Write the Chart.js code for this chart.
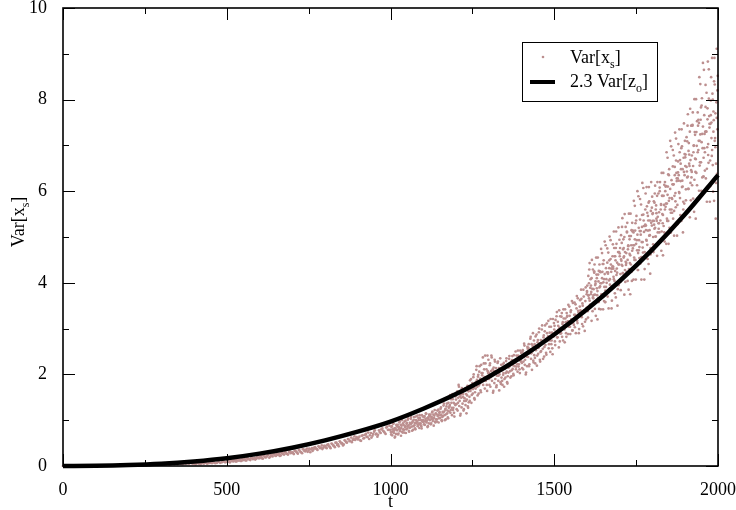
<!DOCTYPE html>
<html>
<head>
<meta charset="utf-8">
<script src="https://cdn.jsdelivr.net/npm/chart.js@4.4.0/dist/chart.umd.min.js"></script>
<style>
  body { margin: 0; background: #fff; }
  canvas { display: block; }
</style>
</head>
<body>
<canvas id="varchart" width="736" height="510"></canvas>
<script>
// black curve: 2.3 Var[z_o], read every 100 in t
var lineT = [0, 100, 200, 300, 400, 500, 600, 700, 800, 900, 1000,
             1100, 1200, 1300, 1400, 1500, 1600, 1700, 1800, 1900, 2000];
var lineY = [0, 0.004, 0.02, 0.05, 0.10, 0.17, 0.27, 0.40, 0.56, 0.75, 0.97,
             1.25, 1.57, 1.95, 2.38, 2.87, 3.42, 4.04, 4.73, 5.50, 6.35];

// scatter Var[x_s], part A: t = 0, 5, 10 ... 995
var scatStartA = 0, scatStepA = 5;
var scatYA = [
  0,0,0,0,0,0,0,0,0,0,0,0,0,0,0,0,0,0,0,0,
  0,0.01,0,0.01,0,0.01,0.01,0,0.01,0.01,0.01,0.01,0.01,0.02,0.01,0.01,0.02,0.01,0.02,0.01,
  0.01,0.02,0.01,0.02,0.02,0.01,0.02,0.03,0.02,0.02,0.03,0.02,0.03,0.02,0.03,0.04,0.03,0.03,0.04,0.03,
  0.03,0.04,0.03,0.04,0.05,0.03,0.04,0.05,0.04,0.05,0.04,0.06,0.05,0.04,0.06,0.05,0.06,0.05,0.07,0.05,
  0.05,0.04,0.06,0.05,0.04,0.06,0.05,0.07,0.05,0.06,0.07,0.06,0.08,0.06,0.07,0.09,0.07,0.08,0.10,0.08,
  0.09,0.11,0.08,0.12,0.10,0.13,0.10,0.12,0.14,0.11,0.13,0.15,0.12,0.16,0.14,0.17,0.15,0.18,0.16,0.19,
  0.17,0.21,0.16,0.22,0.19,0.23,0.18,0.24,0.21,0.26,0.22,0.25,0.27,0.23,0.28,0.25,0.30,0.26,0.31,0.28,
  0.30,0.26,0.33,0.29,0.35,0.31,0.28,0.36,0.32,0.38,0.34,0.30,0.39,0.36,0.41,0.37,0.43,0.39,0.45,0.40,
  0.44,0.39,0.47,0.42,0.49,0.45,0.41,0.51,0.47,0.54,0.49,0.45,0.56,0.52,0.59,0.54,0.62,0.57,0.65,0.60,
  0.58,0.64,0.55,0.67,0.61,0.70,0.63,0.59,0.72,0.66,0.75,0.69,0.64,0.78,0.72,0.82,0.75,0.70,0.86,0.79
];

// part A2: t = 502, 507 ... 997
var scatStartA2 = 502, scatStepA2 = 5;
var scatYA2 = [
  0.12,0.09,0.14,0.11,0.13,0.10,0.15,0.12,0.11,0.16,0.14,0.12,0.17,0.15,0.13,0.18,0.16,0.14,0.19,0.17,
  0.20,0.17,0.23,0.19,0.21,0.25,0.20,0.22,0.26,0.23,0.27,0.24,0.22,0.29,0.26,0.30,0.27,0.25,0.32,0.29,
  0.28,0.33,0.31,0.27,0.34,0.30,0.37,0.33,0.35,0.31,0.38,0.36,0.33,0.40,0.38,0.35,0.42,0.40,0.37,0.44,
  0.41,0.46,0.43,0.39,0.48,0.44,0.51,0.46,0.43,0.52,0.50,0.47,0.55,0.51,0.58,0.55,0.52,0.60,0.57,0.63,
  0.61,0.56,0.66,0.60,0.68,0.64,0.73,0.67,0.62,0.70,0.78,0.71,0.68,0.74,0.80,0.77,0.73,0.84,0.79,0.88
];

// part B: t = 1000, 1002 ... 1998
var scatStartB = 1000, scatStepB = 2;
var scatYB = [
  0.79,0.69,0.87,0.75,0.93,0.72,0.82,0.64,0.80,0.90,
  0.78,0.90,0.71,0.85,0.97,0.81,0.66,0.88,0.75,0.93,
  0.90,0.73,0.85,0.99,0.80,0.94,0.87,1.04,0.77,0.84,
  0.84,1.03,0.93,0.77,0.98,0.87,1.07,0.94,0.80,1.00,
  0.95,1.10,0.90,1.00,0.83,1.05,0.93,0.87,1.11,0.97,
  1.01,0.91,1.09,0.98,1.15,0.95,1.04,0.87,1.03,1.12,
  1.00,1.12,0.93,1.07,1.19,1.03,0.88,1.10,0.97,1.15,
  1.14,0.97,1.09,1.23,1.04,1.18,1.11,1.28,1.00,1.07,
  1.09,1.32,1.19,1.00,1.25,1.13,1.36,1.21,1.04,1.27,
  1.30,1.55,1.22,1.38,1.11,1.46,1.27,1.16,1.57,1.33,
  1.45,1.24,1.63,1.38,1.77,1.31,1.52,1.14,1.49,1.70,
  1.36,1.57,1.24,1.48,1.69,1.42,1.15,1.54,1.30,1.63,
  1.74,1.42,1.64,1.90,1.55,1.81,1.68,2.00,1.48,1.61,
  1.69,2.10,1.88,1.54,1.99,1.76,2.18,1.91,1.61,2.03,
  1.98,2.37,1.86,2.11,1.69,2.24,1.94,1.77,2.41,2.03,
  2.03,1.77,2.24,1.94,2.41,1.86,2.11,1.64,2.07,2.32,
  1.90,2.14,1.76,2.04,2.28,1.97,1.65,2.11,1.83,2.21,
  2.09,1.77,1.99,2.25,1.90,2.16,2.03,2.35,1.83,1.96,
  2.04,2.34,2.18,1.93,2.26,2.09,2.40,2.20,1.98,2.29,
  2.25,2.50,2.17,2.33,2.06,2.41,2.22,2.11,2.52,2.28,
  2.35,2.14,2.53,2.28,2.67,2.21,2.42,2.04,2.39,2.60,
  2.38,2.66,2.22,2.54,2.82,2.46,2.10,2.62,2.30,2.74,
  2.66,2.24,2.53,2.87,2.41,2.75,2.58,3.00,2.32,2.49,
  2.51,2.98,2.73,2.34,2.85,2.60,3.07,2.77,2.43,2.90,
  2.78,3.17,2.66,2.91,2.49,3.04,2.74,2.57,3.21,2.83,
  2.98,2.72,3.19,2.89,3.36,2.81,3.06,2.59,3.02,3.27,
  2.98,3.26,2.82,3.14,3.42,3.06,2.70,3.22,2.90,3.34,
  3.28,2.88,3.16,3.48,3.04,3.36,3.20,3.60,2.96,3.12,
  3.08,3.57,3.30,2.90,3.44,3.17,3.66,3.35,2.99,3.48,
  3.40,3.85,3.25,3.55,3.05,3.70,3.35,3.15,3.90,3.45,
  3.80,3.38,4.15,3.66,4.43,3.52,3.94,3.17,3.87,4.29,
  3.73,4.25,3.43,4.03,4.55,3.88,3.20,4.18,3.58,4.40,
  4.24,3.42,3.99,4.65,3.75,4.41,4.08,4.90,3.58,3.91,
  3.79,4.75,4.23,3.44,4.49,3.96,4.93,4.31,3.61,4.58,
  4.31,5.12,4.04,4.58,3.68,4.85,4.22,3.86,5.21,4.40,
  4.58,4.02,5.04,4.39,5.41,4.21,4.76,3.74,4.67,5.22,
  4.43,5.12,4.04,4.82,5.51,4.63,3.75,5.02,4.24,5.31,
  5.14,4.07,4.82,5.68,4.50,5.36,4.93,6.00,4.28,4.71,
  4.54,5.83,5.13,4.07,5.48,4.77,6.07,5.24,4.30,5.60,
  5.15,6.09,4.83,5.46,4.41,5.78,5.04,4.62,6.20,5.25,
  5.35,4.84,5.78,5.18,6.12,5.01,5.52,4.59,5.44,5.95,
  5.30,6.00,4.90,5.70,6.40,5.50,4.60,5.90,5.10,6.20,
  6.10,4.85,5.73,6.73,5.35,6.35,5.85,7.10,5.10,5.60,
  5.53,6.90,6.15,5.03,6.53,5.78,7.15,6.28,5.28,6.65,
  6.23,7.35,5.85,6.60,5.35,6.98,6.10,5.60,7.48,6.35,
  6.55,5.80,7.18,6.30,7.68,6.05,6.80,5.43,6.68,7.43,
  6.42,7.43,5.84,6.99,8.01,6.71,5.40,7.29,6.13,7.72,
  7.56,6.01,7.10,8.34,6.63,7.87,7.25,8.80,6.32,6.94,
  6.45,8.32,7.30,5.77,7.81,6.79,8.66,7.47,6.11,7.98,
  7.16,8.91,6.57,7.74,5.79,8.33,6.96,6.18,9.11,7.35
];

// part C: t = 1501, 1503 ... 1999
var scatStartC = 1501, scatStepC = 2;
var scatYC = [
  3.06,2.64,2.93,3.27,2.81,3.15,2.98,3.40,2.72,2.89,
  2.90,3.34,3.10,2.74,3.22,2.98,3.42,3.14,2.82,3.26,
  3.16,3.52,3.04,3.28,2.88,3.40,3.12,2.96,3.56,3.20,
  3.30,3.03,3.53,3.21,3.71,3.12,3.39,2.90,3.35,3.62,
  3.30,3.65,3.10,3.50,3.85,3.40,2.95,3.60,3.20,3.75,
  3.94,3.24,3.73,4.29,3.52,4.08,3.80,4.50,3.38,3.66,
  3.58,4.40,3.95,3.28,4.18,3.73,4.55,4.03,3.43,4.25,
  3.99,4.74,3.75,4.24,3.42,4.49,3.91,3.58,4.82,4.08,
  4.23,3.70,4.66,4.05,5.01,3.88,4.40,3.44,4.31,4.84,
  4.13,4.76,3.77,4.49,5.12,4.31,3.50,4.67,3.95,4.94,
  4.76,3.84,4.48,5.22,4.21,4.95,4.58,5.50,4.02,4.39,
  4.24,5.31,4.73,3.85,5.02,4.43,5.51,4.82,4.04,5.12,
  4.82,5.79,4.50,5.14,4.07,5.46,4.71,4.28,5.89,4.93,
  5.13,4.42,5.71,4.89,6.18,4.66,5.36,4.07,5.24,5.95,
  4.94,5.67,4.52,5.36,6.09,5.15,4.20,5.57,4.73,5.88,
  5.52,4.67,5.27,5.95,5.01,5.69,5.35,6.20,4.84,5.18,
  5.10,6.20,5.60,4.70,5.90,5.30,6.40,5.70,4.90,6.00,
  5.73,6.85,5.35,6.10,4.85,6.48,5.60,5.10,6.98,5.85,
  6.15,5.40,6.78,5.90,7.28,5.65,6.40,5.03,6.28,7.03,
  5.98,6.85,5.48,6.48,7.35,6.23,5.10,6.73,5.73,7.10,
  6.80,5.55,6.43,7.43,6.05,7.05,6.55,7.80,5.80,6.30,
  6.13,7.72,6.85,5.55,7.29,6.42,8.01,6.99,5.84,7.43,
  7.10,8.49,6.63,7.56,6.01,8.03,6.94,6.32,8.65,7.25,
  7.30,6.28,8.15,6.96,8.83,6.62,7.64,5.77,7.47,8.49,
  6.77,8.13,5.99,7.55,8.91,7.16,5.40,7.94,6.38,8.52
];

// part D: t = 1001, 1003 ... 1499
var scatStartD = 1001, scatStepD = 2;
var scatYD = [
  0.74,0.85,0.67,0.80,0.92,0.77,0.62,0.83,0.70,0.88,
  0.86,0.69,0.81,0.95,0.76,0.90,0.83,1.00,0.73,0.80,
  0.79,0.97,0.87,0.72,0.92,0.82,1.01,0.89,0.75,0.94,
  0.91,1.07,0.86,0.96,0.79,1.01,0.89,0.82,1.08,0.93,
  0.97,0.87,1.05,0.93,1.11,0.90,1.00,0.82,0.98,1.08,
  0.96,1.07,0.90,1.03,1.14,0.99,0.85,1.06,0.93,1.11,
  1.08,0.91,1.03,1.17,0.98,1.12,1.05,1.22,0.95,1.02,
  1.02,1.21,1.11,0.95,1.16,1.05,1.25,1.12,0.98,1.18,
  1.17,1.36,1.11,1.23,1.02,1.30,1.15,1.06,1.38,1.19,
  1.33,1.16,1.46,1.27,1.57,1.22,1.38,1.08,1.35,1.52,
  1.35,1.59,1.21,1.49,1.73,1.42,1.10,1.56,1.28,1.66,
  1.51,1.21,1.42,1.66,1.33,1.57,1.45,1.75,1.27,1.39,
  1.51,1.87,1.68,1.38,1.77,1.58,1.94,1.71,1.45,1.81,
  1.84,2.18,1.73,1.95,1.58,2.06,1.80,1.65,2.21,1.88,
  2.03,1.77,2.24,1.94,2.41,1.86,2.11,1.64,2.07,2.32,
  1.90,2.20,1.73,2.07,2.37,1.98,1.60,2.15,1.81,2.28,
  2.07,1.72,1.97,2.25,1.86,2.14,2.00,2.35,1.79,1.93,
  1.86,2.22,2.03,1.73,2.12,1.93,2.29,2.06,1.80,2.16,
  2.15,2.40,2.07,2.23,1.96,2.31,2.12,2.01,2.42,2.18,
  2.28,2.11,2.41,2.22,2.52,2.17,2.33,2.03,2.30,2.47,
  2.25,2.49,2.11,2.39,2.63,2.32,2.00,2.46,2.18,2.56,
  2.58,2.18,2.46,2.78,2.34,2.66,2.50,2.90,2.26,2.42,
  2.36,2.83,2.58,2.19,2.70,2.45,2.92,2.62,2.28,2.75,
  2.68,3.07,2.56,2.81,2.39,2.94,2.64,2.47,3.11,2.73,
  2.83,2.57,3.04,2.74,3.21,2.66,2.91,2.44,2.87,3.12
];

// part E: dense core of the cloud, t = 1600, 1602 ... 1998
var scatStartE = 1600, scatStepE = 2;
var scatYE = [
  3.82,3.47,3.72,3.99,3.61,3.89,3.75,4.10,3.54,3.68,
  3.86,4.22,3.74,3.98,3.58,4.10,3.82,3.66,4.26,3.90,
  3.92,4.23,3.74,4.10,4.41,4.01,3.60,4.19,3.83,4.32,
  4.00,4.44,4.20,3.84,4.32,4.08,4.52,4.24,3.92,4.36,
  4.35,4.08,4.58,4.26,4.76,4.17,4.44,3.95,4.40,4.67,
  4.64,4.19,4.51,4.87,4.37,4.73,4.55,5.00,4.28,4.46,
  4.65,5.10,4.50,4.80,4.30,4.95,4.60,4.40,5.15,4.70,
  4.75,5.10,4.55,4.95,5.30,4.85,4.40,5.05,4.65,5.20,
  4.78,5.38,5.05,4.56,5.22,4.89,5.49,5.11,4.67,5.27,
  5.25,4.92,5.53,5.14,5.75,5.03,5.36,4.76,5.31,5.64,
  5.50,5.00,5.35,5.75,5.20,5.60,5.40,5.90,5.10,5.30,
  5.54,6.08,5.36,5.72,5.12,5.90,5.48,5.24,6.14,5.60,
  5.66,6.11,5.40,5.92,6.37,5.79,5.20,6.05,5.53,6.24,
  5.83,6.54,6.15,5.57,6.35,5.96,6.67,6.22,5.70,6.41,
  6.35,5.96,6.68,6.22,6.94,6.09,6.48,5.77,6.42,6.81,
  6.74,6.04,6.53,7.09,6.32,6.88,6.60,7.30,6.18,6.46,
  6.78,7.45,6.55,7.00,6.25,7.23,6.70,6.40,7.53,6.85,
  6.90,7.49,6.56,7.24,7.83,7.07,6.30,7.41,6.73,7.66,
  6.85,7.84,7.30,6.49,7.57,7.03,8.02,7.39,6.67,7.66,
  7.50,6.90,8.00,7.30,8.40,7.10,7.70,6.60,7.60,8.20
];

var xTicks = [0, 500, 1000, 1500, 2000];
var yTicks = [0, 2, 4, 6, 8, 10];

var dotColor = 'rgb(188,143,143)';
var serif = "'Liberation Serif', 'Times New Roman', serif";
var fontPx = 18;

function pts(start, step, ys) {
  return ys.map(function (v, i) { return { x: start + i * step, y: v }; });
}

// draws text with a subscript part, returns width
function subText(ctx, parts, x, y, size, measureOnly) {
  var w = 0;
  parts.forEach(function (p) {
    var sub = p[1];
    ctx.font = (sub ? Math.round(size * 0.65) : size) + 'px ' + serif;
    if (!measureOnly) ctx.fillText(p[0], x + w, y + (sub ? size * 0.3 : 0));
    w += ctx.measureText(p[0]).width;
  });
  return w;
}

var decor = {
  id: 'decor',
  afterDraw: function (chart) {
    var ctx = chart.ctx, a = chart.chartArea;
    var xs = chart.scales.x, ys = chart.scales.y;
    ctx.save();
    ctx.strokeStyle = '#000';
    ctx.fillStyle = '#000';
    ctx.lineWidth = 1;
    ctx.beginPath();
    // x ticks on bottom and top, pointing inward
    for (var t = 0; t <= 2000; t += 250) {
      var px = Math.round(xs.getPixelForValue(t)) + 0.5;
      var len = t % 500 === 0 ? 12 : 6;
      ctx.moveTo(px, a.bottom); ctx.lineTo(px, a.bottom - len);
      ctx.moveTo(px, a.top); ctx.lineTo(px, a.top + len);
    }
    // y ticks on left and right
    for (var v = 0; v <= 10; v += 1) {
      var py = Math.round(ys.getPixelForValue(v)) + 0.5;
      var l2 = v % 2 === 0 ? 12 : 6;
      ctx.moveTo(a.left, py); ctx.lineTo(a.left + l2, py);
      ctx.moveTo(a.right, py); ctx.lineTo(a.right - l2, py);
    }
    ctx.stroke();
    ctx.lineWidth = 1.6;
    ctx.strokeRect(a.left, a.top, a.right - a.left, a.bottom - a.top);

    // axis titles
    ctx.textBaseline = 'alphabetic';
    ctx.font = fontPx + 'px ' + serif;
    ctx.textAlign = 'center';
    ctx.fillText('t', (a.left + a.right) / 2, 507);
    ctx.textAlign = 'left';
    var yParts = [['Var[x', false], ['s', true], [']', false]];
    var yw = subText(ctx, yParts, 0, 0, fontPx, true);
    ctx.save();
    ctx.translate(24, 222);
    ctx.rotate(-Math.PI / 2);
    subText(ctx, yParts, -yw / 2, 0, fontPx, false);
    ctx.restore();

    // legend box
    ctx.fillStyle = '#fff';
    ctx.fillRect(522, 42, 135, 59);
    ctx.lineWidth = 1;
    ctx.strokeStyle = '#000';
    ctx.strokeRect(522.5, 42.5, 135, 59);
    ctx.fillStyle = dotColor;
    ctx.beginPath();
    ctx.arc(543, 57, 1.3, 0, Math.PI * 2);
    ctx.fill();
    ctx.strokeStyle = '#000';
    ctx.lineWidth = 4;
    ctx.beginPath();
    ctx.moveTo(530, 82); ctx.lineTo(555, 82);
    ctx.stroke();
    ctx.fillStyle = '#000';
    subText(ctx, [['Var[x', false], ['s', true], [']', false]], 570, 63, fontPx, false);
    subText(ctx, [['2.3 Var[z', false], ['o', true], [']', false]], 570, 87, fontPx, false);
    ctx.restore();
  }
};

var scatterData = pts(scatStartA, scatStepA, scatYA)
  .concat(pts(scatStartA2, scatStepA2, scatYA2))
  .concat(pts(scatStartB, scatStepB, scatYB))
  .concat(pts(scatStartC, scatStepC, scatYC))
  .concat(pts(scatStartD, scatStepD, scatYD))
  .concat(pts(scatStartE, scatStepE, scatYE));

var ctx = document.getElementById('varchart').getContext('2d');
var chart = new Chart(ctx, {
  type: 'scatter',
  data: {
    datasets: [
      {
        label: '2.3 Var[z_o]',
        data: lineT.map(function (t, i) { return { x: t, y: lineY[i] }; }),
        showLine: true,
        borderColor: '#000',
        borderWidth: 4.5,
        pointRadius: 0,
        cubicInterpolationMode: 'monotone',
        clip: 4
      },
      {
        label: 'Var[x_s]',
        data: scatterData,
        backgroundColor: dotColor,
        borderWidth: 0,
        pointRadius: 1.35,
        clip: 2
      }
    ]
  },
  options: {
    responsive: false,
    animation: false,
    layout: { padding: { left: 0, right: 18, top: 8, bottom: 0 } },
    plugins: { legend: { display: false }, tooltip: { enabled: false } },
    scales: {
      x: {
        type: 'linear', min: 0, max: 2000,
        afterBuildTicks: function (s) { s.ticks = xTicks.map(function (v) { return { value: v }; }); },
        afterFit: function (s) { s.height = 44; s.paddingLeft = 0; s.paddingRight = 0; },
        grid: { display: false },
        border: { display: false },
        ticks: {
          color: '#000', padding: 5, maxRotation: 0,
          font: { family: serif, size: fontPx },
          callback: function (v) { return String(v); }
        }
      },
      y: {
        type: 'linear', min: 0, max: 10,
        afterBuildTicks: function (s) { s.ticks = yTicks.map(function (v) { return { value: v }; }); },
        afterFit: function (s) { s.width = 63; s.paddingTop = 0; s.paddingBottom = 0; },
        grid: { display: false },
        border: { display: false },
        ticks: {
          color: '#000', padding: 8,
          font: { family: serif, size: fontPx },
          callback: function (v) { return String(v); }
        }
      }
    }
  },
  plugins: [decor]
});
</script>
</body>
</html>
